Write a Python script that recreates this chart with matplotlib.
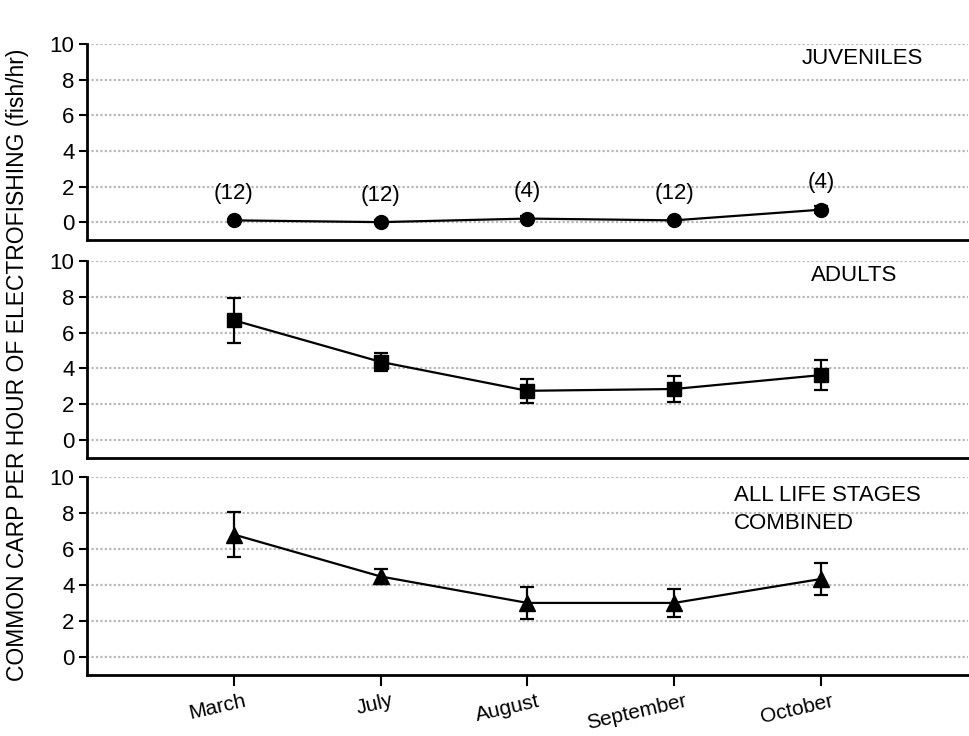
import matplotlib
matplotlib.use("Agg")
import matplotlib.pyplot as plt
import matplotlib.transforms as mtransforms
import numpy as np

plt.rcParams['font.family'] = ['Liberation Sans', 'DejaVu Sans']

# datos
months = ["March", "July", "August", "September", "October"]
juv = [0.1, 0.0, 0.2, 0.1, 0.7]
juv_err = [0.1, 0.1, 0.15, 0.1, 0.2]
juv_n = ["(12)", "(12)", "(4)", "(12)", "(4)"]
adults = [6.7, 4.37, 2.75, 2.85, 3.63]
adults_err = [1.25, 0.5, 0.68, 0.73, 0.85]
allst = [6.8, 4.47, 3.0, 3.0, 4.33]
allst_err = [1.27, 0.43, 0.88, 0.78, 0.88]

x = np.arange(1, len(months) + 1)
fs = 16

fig = plt.figure(figsize=(9.7, 7.36), dpi=100)

# posiciones de los paneles (left, bottom, width, height)
pos = [[0.0897, 0.674, 0.908, 0.266],
       [0.0897, 0.378, 0.908, 0.267],
       [0.0897, 0.083, 0.908, 0.269]]

# (valores, error, marcador, tamano, etiqueta, x etiqueta, y etiqueta)
series = [(juv, juv_err, 'o', 10, "JUVENILES", 4.87, 9.2),
          (adults, adults_err, 's', 10, "ADULTS", 4.93, 9.2),
          (allst, allst_err, '^', 11, "ALL LIFE STAGES\nCOMBINED", 4.41, 9.55)]

axes = []
for i, (vals, err, mk, ms, lab, lx, ly) in enumerate(series):
    ax = fig.add_axes(pos[i])
    ax.set_xlim(0, 6)
    ax.set_ylim(-1, 10)
    ax.set_yticks([0, 2, 4, 6, 8, 10])
    for g in [0, 2, 4, 6, 8, 10]:
        ax.axhline(g, color='#b8b8b8', linestyle=(0, (1, 1)), linewidth=1.6, zorder=0)
    ax.errorbar(x, vals, yerr=err, color='black', marker=mk, markersize=ms,
                linewidth=1.6, elinewidth=1.6, capsize=5, capthick=1.6, zorder=3)
    ax.spines['top'].set_visible(False)
    ax.spines['right'].set_visible(False)
    ax.spines['left'].set_bounds(-1, 10)
    ax.spines['left'].set_linewidth(2)
    ax.spines['bottom'].set_linewidth(2)
    ax.tick_params(axis='y', labelsize=fs, length=6, width=1.5, direction='out', pad=3)
    ax.text(lx, ly, lab, fontsize=fs, ha='left', va='center' if i < 2 else 'top',
            linespacing=1.45)
    if i < 2:
        ax.set_xticks([])
    else:
        ax.set_xticks(x)
        ax.set_xticklabels(months, rotation=13, fontsize=15, ha='right',
                           rotation_mode='anchor')
        ax.tick_params(axis='x', length=8, width=1.5, direction='out', pad=4)
        off = mtransforms.ScaledTranslation(10 / 100, 0, fig.dpi_scale_trans)
        for t in ax.get_xticklabels():
            t.set_transform(t.get_transform() + off)
    axes.append(ax)

for xi, v, n in zip(x, juv, juv_n):
    axes[0].text(xi, v + 1.5, n, fontsize=fs, ha='center', va='center')

fig.text(0.018, 0.505, "COMMON CARP PER HOUR OF ELECTROFISHING (fish/hr)",
         rotation=90, ha='center', va='center', fontsize=16.5)

fig.savefig("out.png", dpi=100)
